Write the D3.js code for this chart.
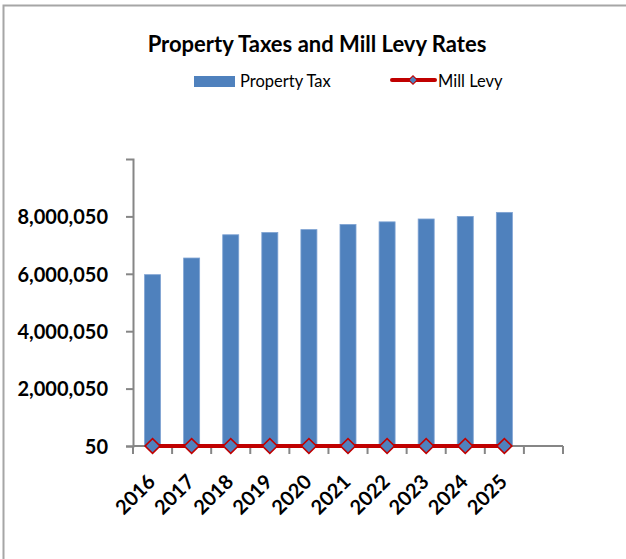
<!DOCTYPE html>
<html>
<head>
<meta charset="utf-8">
<script src="https://cdn.jsdelivr.net/npm/d3@7"></script>
<style>
  body { margin: 0; background: #fff; }
  svg { display: block; }
  text { font-family: Lato, "Open Sans", sans-serif; fill: #000; }
</style>
</head>
<body>
<svg id="chart" width="626" height="559"></svg>
<script>
// Budget years, with one empty slot after the last year on the category axis
const years = ["2016", "2017", "2018", "2019", "2020", "2021", "2022", "2023", "2024", "2025"];
const axisSlots = [...years, ""];

// Property tax collected per year (dollars)
const propertyTax = [5970000, 6550000, 7360000, 7440000, 7540000, 7720000, 7810000, 7910000, 8000000, 8140000];

// Mill levy rate per year (mills) – tiny next to the dollar scale
const millLevy = [52.4, 52.1, 51.8, 51.6, 51.5, 51.3, 51.2, 51.0, 50.9, 50.8];

// Value axis
const yDomain = [50, 10000050];
const yTickValues = [50, 2000050, 4000050, 6000050, 8000050];

const seriesNames = ["Property Tax", "Mill Levy"];
const chartTitle = "Property Taxes and Mill Levy Rates";

const barColor = "#4F81BD";
const lineColor = "#C00000";
const axisColor = "#868686";

const svg = d3.select("#chart");
const W = 626, H = 559;
const margin = { top: 159, right: 63, bottom: 113, left: 133 };

// Outer frame (only the top and left edges fall inside the view)
svg.append("rect")
  .attr("x", 3.5).attr("y", 5.5)
  .attr("width", W + 10).attr("height", H + 10)
  .attr("fill", "none").attr("stroke", "#a6a6a6").attr("stroke-width", 2);

const x = d3.scaleBand()
  .domain(axisSlots)
  .range([margin.left, W - margin.right])
  .padding(0);

const y = d3.scaleLinear()
  .domain(yDomain)
  .range([H - margin.bottom, margin.top]);

const barW = x.bandwidth() * 0.41;
const cx = d => x(d) + x.bandwidth() / 2;

// Bars
svg.append("g")
  .selectAll("rect")
  .data(years.map((yr, i) => ({ yr, v: propertyTax[i] })))
  .join("rect")
  .attr("x", d => cx(d.yr) - barW / 2)
  .attr("y", d => y(d.v))
  .attr("width", barW)
  .attr("height", d => y(yDomain[0]) - y(d.v))
  .attr("fill", barColor)
  .attr("stroke", "#7fa3d3")
  .attr("stroke-width", 0.8);

// Y axis
const yAxis = svg.append("g")
  .attr("transform", `translate(${margin.left},0)`)
  .call(d3.axisLeft(y).tickValues(yTickValues).tickFormat(d3.format(",")).tickSize(7).tickPadding(18));
yAxis.select(".domain").attr("stroke", axisColor).attr("stroke-width", 2);
yAxis.selectAll(".tick line").attr("stroke", axisColor).attr("stroke-width", 2);
yAxis.selectAll(".tick text")
  .attr("font-size", 20).attr("font-weight", "bold").attr("fill", "#000")
  .attr("dy", "0.36em")
  .style("font-family", "Lato, sans-serif");

// X axis: baseline, ticks between categories
const baseY = y(yDomain[0]);
const xg = svg.append("g");
xg.append("line")
  .attr("x1", margin.left).attr("x2", W - margin.right)
  .attr("y1", baseY).attr("y2", baseY)
  .attr("stroke", axisColor).attr("stroke-width", 2);
const bounds = axisSlots.map(d => x(d)).concat([x(axisSlots[axisSlots.length - 1]) + x.bandwidth()]);
xg.selectAll("line.tk")
  .data(bounds)
  .join("line")
  .attr("class", "tk")
  .attr("x1", d => d).attr("x2", d => d)
  .attr("y1", baseY).attr("y2", baseY + 8)
  .attr("stroke", axisColor).attr("stroke-width", 2);

// Year labels, rotated
xg.selectAll("text")
  .data(years)
  .join("text")
  .attr("transform", d => `translate(${cx(d) + 4},${baseY + 37}) rotate(-45)`)
  .attr("text-anchor", "end")
  .attr("font-size", 20)
  .attr("font-weight", "bold")
  .text(d => d);

// Mill levy line with diamond markers
const millPts = years.map((yr, i) => ({ yr, v: millLevy[i] }));
svg.append("path")
  .datum(millPts)
  .attr("fill", "none")
  .attr("stroke", lineColor)
  .attr("stroke-width", 4)
  .attr("d", d3.line().x(d => cx(d.yr)).y(d => y(d.v)));

const diamond = d3.symbol(d3.symbolSquare, 112);
svg.append("g")
  .selectAll("path")
  .data(millPts)
  .join("path")
  .attr("d", diamond)
  .attr("transform", d => `translate(${cx(d.yr)},${y(d.v)}) rotate(45)`)
  .attr("fill", barColor)
  .attr("stroke", lineColor)
  .attr("stroke-width", 1.6);

// Title
svg.append("text")
  .attr("x", 317).attr("y", 52)
  .attr("text-anchor", "middle")
  .attr("font-size", 22)
  .attr("font-weight", "bold")
  .text(chartTitle);

// Legend
const lg = svg.append("g");
lg.append("rect")
  .attr("x", 194).attr("y", 76).attr("width", 41).attr("height", 11)
  .attr("fill", barColor);
lg.append("text")
  .attr("x", 240).attr("y", 87)
  .attr("font-size", 16.5)
  .text(seriesNames[0]);
lg.append("line")
  .attr("x1", 392).attr("x2", 435).attr("y1", 80).attr("y2", 80)
  .attr("stroke", lineColor).attr("stroke-width", 4).attr("stroke-linecap", "round");
lg.append("path")
  .attr("d", d3.symbol(d3.symbolSquare, 36))
  .attr("transform", "translate(413,80) rotate(45)")
  .attr("fill", barColor).attr("stroke", lineColor).attr("stroke-width", 1.2);
lg.append("text")
  .attr("x", 438).attr("y", 87)
  .attr("font-size", 16.5)
  .text(seriesNames[1]);
</script>
</body>
</html>
